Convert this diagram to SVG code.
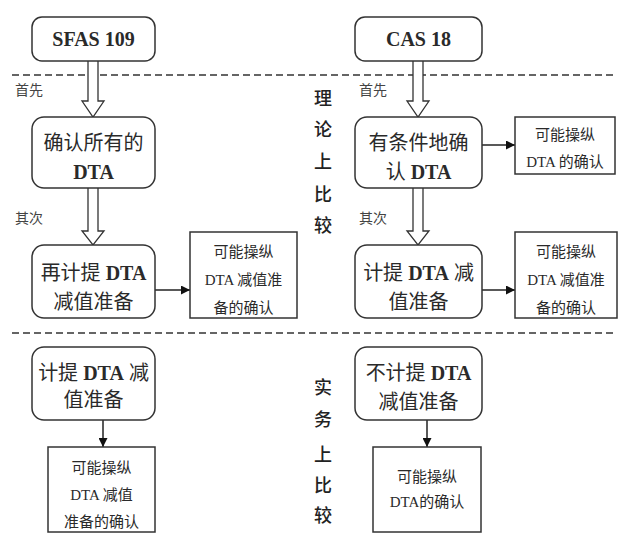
<svg xmlns="http://www.w3.org/2000/svg" width="621" height="534" viewBox="0 0 621 534">
<style>
.rb{fill:#fff;stroke:#333;stroke-width:1.5}
.sb{fill:#fff;stroke:#333;stroke-width:1.5}
.t{font-family:"Liberation Serif","Noto Sans CJK SC",serif;fill:#2a2a2a;text-anchor:middle;dominant-baseline:central}
.big{font-size:20px}
.sm{font-size:15px}
.lab{font-size:14px;text-anchor:start;fill:#444}
.vt{font-size:18px;font-weight:500;fill:#222}
.b{font-weight:bold}
.dash{stroke:#333;stroke-width:1.5;stroke-dasharray:7 4;fill:none}
.ln{stroke:#222;stroke-width:1.5;fill:none}
.hol{fill:#fff;stroke:#333;stroke-width:1.3}
</style>
<defs>
<marker id="ah" viewBox="0 0 10 10" refX="10" refY="5" markerWidth="9" markerHeight="9" markerUnits="userSpaceOnUse" orient="auto">
<path d="M0,0 L10,5 L0,10 z" fill="#111"/>
</marker>
</defs>
<rect width="621" height="534" fill="#fff"/>
<g id="separators">
<line class="dash" x1="12" y1="75" x2="616" y2="75"/>
<line class="dash" x1="12" y1="333" x2="616" y2="333"/>
</g>
<g id="labels">
<text class="t lab" x="15" y="90">首先</text>
<text class="t lab" x="15" y="218">其次</text>
<text class="t lab" x="359" y="90">首先</text>
<text class="t lab" x="359" y="218">其次</text>
<text class="t vt" x="323" y="99">理</text>
<text class="t vt" x="323" y="130">论</text>
<text class="t vt" x="323" y="162">上</text>
<text class="t vt" x="323" y="195">比</text>
<text class="t vt" x="323" y="226">较</text>
<text class="t vt" x="323" y="388">实</text>
<text class="t vt" x="323" y="420">务</text>
<text class="t vt" x="323" y="455">上</text>
<text class="t vt" x="323" y="486">比</text>
<text class="t vt" x="323" y="516">较</text>
</g>
<g id="connectors">
<path class="hol" d="M88,61 L88,101 L82,101 L93,117 L104,101 L98,101 L98,61"/>
<path class="hol" d="M88,188 L88,231 L82,231 L93,245 L104,231 L98,231 L98,188"/>
<path class="hol" d="M413,61 L413,101 L407,101 L418,117 L429,101 L423,101 L423,61"/>
<path class="hol" d="M413,188 L413,231 L407,231 L418,245 L429,231 L423,231 L423,188"/>
<line class="ln" x1="155" y1="290" x2="190" y2="290" marker-end="url(#ah)"/>
<line class="ln" x1="482" y1="145" x2="515" y2="145" marker-end="url(#ah)"/>
<line class="ln" x1="482" y1="290" x2="515" y2="290" marker-end="url(#ah)"/>
<line class="ln" x1="103" y1="420" x2="103" y2="447" marker-end="url(#ah)"/>
<line class="ln" x1="427" y1="420" x2="427" y2="447" marker-end="url(#ah)"/>
</g>
<g id="sfas109">
<rect class="rb" x="32" y="17" width="123" height="44" rx="10"/>
<text class="t big b" x="93.5" y="39">SFAS 109</text>
</g>
<g id="confirm-all">
<rect class="rb" x="32" y="117" width="123" height="71" rx="12"/>
<text class="t big" x="93.5" y="143">确认所有的</text>
<text class="t big b" x="93.5" y="172">DTA</text>
</g>
<g id="reaccrue">
<rect class="rb" x="32" y="245" width="123" height="73" rx="12"/>
<text class="t big" x="93.5" y="273">再计提 <tspan class="b">DTA</tspan></text>
<text class="t big" x="93.5" y="302">减值准备</text>
</g>
<g id="manip-left">
<rect class="sb" x="190" y="232" width="107" height="86"/>
<text class="t sm" x="243.5" y="252">可能操纵</text>
<text class="t sm" x="243.5" y="280">DTA 减值准</text>
<text class="t sm" x="243.5" y="308">备的确认</text>
</g>
<g id="practice-left">
<rect class="rb" x="32" y="347" width="123" height="73" rx="12"/>
<text class="t big" x="93.5" y="373">计提 <tspan class="b">DTA</tspan> 减</text>
<text class="t big" x="93.5" y="400">值准备</text>
</g>
<g id="manip-left-practice">
<rect class="sb" x="48" y="447" width="107" height="85"/>
<text class="t sm" x="101.5" y="468">可能操纵</text>
<text class="t sm" x="101.5" y="495">DTA 减值</text>
<text class="t sm" x="101.5" y="522">准备的确认</text>
</g>
<g id="cas18">
<rect class="rb" x="355" y="17" width="127" height="44" rx="10"/>
<text class="t big b" x="418.5" y="39">CAS 18</text>
</g>
<g id="conditional">
<rect class="rb" x="355" y="117" width="127" height="71" rx="12"/>
<text class="t big" x="418.5" y="143">有条件地确</text>
<text class="t big" x="418.5" y="172">认 <tspan class="b">DTA</tspan></text>
</g>
<g id="manip-right-top">
<rect class="sb" x="515" y="117" width="100" height="57"/>
<text class="t sm" x="565" y="135">可能操纵</text>
<text class="t sm" x="565" y="162">DTA 的确认</text>
</g>
<g id="accrue-right">
<rect class="rb" x="355" y="245" width="127" height="73" rx="12"/>
<text class="t big" x="418.5" y="273">计提 <tspan class="b">DTA</tspan> 减</text>
<text class="t big" x="418.5" y="302">值准备</text>
</g>
<g id="manip-right">
<rect class="sb" x="515" y="232" width="102" height="86"/>
<text class="t sm" x="566" y="252">可能操纵</text>
<text class="t sm" x="566" y="280">DTA 减值准</text>
<text class="t sm" x="566" y="308">备的确认</text>
</g>
<g id="practice-right">
<rect class="rb" x="355" y="347" width="127" height="73" rx="12"/>
<text class="t big" x="418.5" y="373">不计提 <tspan class="b">DTA</tspan></text>
<text class="t big" x="418.5" y="402">减值准备</text>
</g>
<g id="manip-right-practice">
<rect class="sb" x="373" y="447" width="108" height="85"/>
<text class="t sm" x="427" y="477">可能操纵</text>
<text class="t sm" x="427" y="502">DTA的确认</text>
</g>
</svg>
